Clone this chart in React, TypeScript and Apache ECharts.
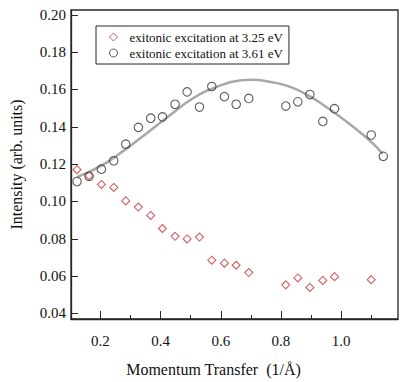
import { useEffect, useRef } from "react";
import * as echarts from "echarts";

// exitonic excitation at 3.61 eV (circles)
const circleX = [0.122, 0.162, 0.203, 0.244, 0.284, 0.326, 0.367, 0.406, 0.448, 0.488, 0.529, 0.570, 0.612, 0.651, 0.693, 0.816, 0.856, 0.896, 0.939, 0.978, 1.100, 1.140];
const circleY = [0.1107, 0.1135, 0.1173, 0.1218, 0.1307, 0.1397, 0.1446, 0.1453, 0.1521, 0.1587, 0.1506, 0.1616, 0.1562, 0.1521, 0.1552, 0.1511, 0.1534, 0.1573, 0.1429, 0.1497, 0.1356, 0.1242];

// exitonic excitation at 3.25 eV (diamonds)
const diamondX = [0.122, 0.162, 0.203, 0.244, 0.284, 0.326, 0.367, 0.406, 0.448, 0.488, 0.529, 0.570, 0.612, 0.651, 0.693, 0.816, 0.856, 0.896, 0.939, 0.978, 1.100];
const diamondY = [0.1170, 0.1138, 0.1091, 0.1075, 0.1003, 0.0970, 0.0925, 0.0855, 0.0813, 0.0799, 0.0809, 0.0685, 0.0669, 0.0658, 0.0619, 0.0553, 0.0590, 0.0539, 0.0577, 0.0597, 0.0581];

// fitted curve
const fitX = [0.122, 0.212, 0.283, 0.355, 0.432, 0.508, 0.585, 0.662, 0.702, 0.767, 0.833, 0.899, 0.965, 1.031, 1.097, 1.138];
const fitY = [0.1130, 0.1200, 0.1279, 0.1367, 0.1463, 0.1553, 0.1613, 0.1648, 0.1652, 0.1640, 0.1613, 0.1560, 0.1490, 0.1411, 0.1323, 0.1256];

const xMajorTicks = [0.2, 0.4, 0.6, 0.8, 1.0];
const xMinorTicks = [0.3, 0.5, 0.7, 0.9, 1.1];
const yTicks = [0.04, 0.06, 0.08, 0.1, 0.12, 0.14, 0.16, 0.18, 0.2];

const seriesNames = ["exitonic excitation at 3.25 eV", "exitonic excitation at 3.61 eV"];

const FONT = "'Liberation Serif', 'Times New Roman', serif";
const INK = "#262626";

export default function App() {
  const ref = useRef<HTMLDivElement>(null);
  useEffect(() => {
    if (!ref.current) return;
    const chart = echarts.init(ref.current, undefined, { renderer: "svg" });
    const zip = (xs: number[], ys: number[]) => xs.map((x, i) => [x, ys[i]]);
    chart.setOption({
      animation: false,
      backgroundColor: "#ffffff",
      grid: {
        left: 68,
        top: 10,
        right: 9,
        bottom: 58,
        show: true,
        borderColor: INK,
        borderWidth: 1.3,
        backgroundColor: "transparent",
      },
      legend: {
        orient: "vertical",
        left: 96,
        top: 26,
        data: seriesNames,
        borderColor: INK,
        borderWidth: 1,
        padding: [4, 6, 4, 13],
        itemGap: 2,
        itemWidth: 8,
        itemHeight: 8,
        itemStyle: { borderWidth: 1 },
        textStyle: {
          fontFamily: FONT,
          fontSize: 13,
          color: "#111",
          lineHeight: 14,
          padding: [0, 0, 0, 7],
        },
      },
      xAxis: [
        {
          type: "value",
          min: 0.102,
          max: 1.189,
          position: "bottom",
          name: "Momentum Transfer  (1/Å)",
          nameLocation: "middle",
          nameGap: 42,
          nameTextStyle: {
            fontFamily: FONT,
            fontSize: 16,
            color: "#111",
            padding: [0, 42, 0, 0],
          },
          axisLine: { show: true, lineStyle: { color: INK, width: 1.3 } },
          axisTick: {
            show: true,
            inside: true,
            length: 8,
            customValues: xMajorTicks,
            lineStyle: { color: INK, width: 1 },
          },
          axisLabel: {
            customValues: xMajorTicks,
            formatter: (v: number) => v.toFixed(1),
            fontFamily: FONT,
            fontSize: 15,
            color: "#111",
            margin: 14,
          },
          splitLine: { show: false },
        },
        {
          type: "value",
          min: 0.102,
          max: 1.189,
          position: "bottom",
          axisLine: { show: false },
          axisTick: {
            show: true,
            inside: true,
            length: 4,
            customValues: xMinorTicks,
            lineStyle: { color: INK, width: 1 },
          },
          axisLabel: { show: false },
          splitLine: { show: false },
        },
      ],
      yAxis: {
        type: "value",
        min: 0.037,
        max: 0.2026,
        name: "Intensity (arb. units)",
        nameLocation: "middle",
        nameGap: 47,
        nameRotate: 90,
        nameTextStyle: { fontFamily: FONT, fontSize: 16, color: "#111" },
        axisLine: { show: true, lineStyle: { color: INK, width: 1.3 } },
        axisTick: {
          show: true,
          inside: true,
          length: 7,
          customValues: yTicks,
          lineStyle: { color: INK, width: 1 },
        },
        axisLabel: {
          customValues: yTicks,
          formatter: (v: number) => v.toFixed(2),
          fontFamily: FONT,
          fontSize: 15,
          color: "#111",
          margin: 5,
        },
        splitLine: { show: false },
      },
      series: [
        {
          name: "fit",
          type: "line",
          xAxisIndex: 0,
          data: zip(fitX, fitY),
          smooth: 0.5,
          showSymbol: false,
          symbol: "none",
          lineStyle: { color: "#a8a8a8", width: 2.5 },
          z: 1,
          silent: true,
        },
        {
          name: seriesNames[0],
          type: "scatter",
          xAxisIndex: 0,
          data: zip(diamondX, diamondY),
          symbol: "diamond",
          symbolSize: 8,
          itemStyle: { color: "rgba(255,255,255,0)", borderColor: "#c8383a", borderWidth: 1.1 },
          z: 3,
        },
        {
          name: seriesNames[1],
          type: "scatter",
          xAxisIndex: 0,
          data: zip(circleX, circleY),
          symbol: "circle",
          symbolSize: 8.5,
          itemStyle: { color: "rgba(255,255,255,0)", borderColor: "#333333", borderWidth: 1.1 },
          z: 2,
        },
      ],
    });
    return () => chart.dispose();
  }, []);
  return <div ref={ref} style={{ width: 407, height: 382, position: "absolute", left: 0, top: 0 }} />;
}
